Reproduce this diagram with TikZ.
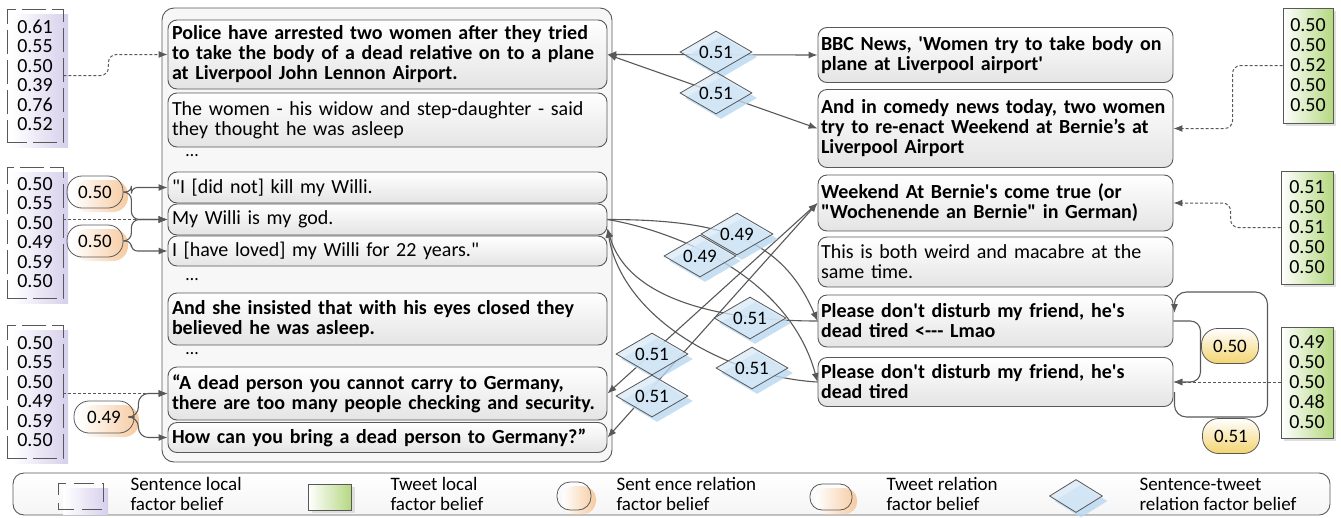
\documentclass[tikz,border=0pt]{standalone}
\usepackage{fontspec}
\setmainfont{Carlito}
\usetikzlibrary{shapes.geometric,shadows,calc,arrows.meta}

\definecolor{lngray}{RGB}{88,88,88}
\definecolor{boxgray}{RGB}{228,228,228}
\definecolor{purp}{RGB}{214,207,236}
\definecolor{grn}{RGB}{180,216,128}
\definecolor{peach}{RGB}{246,202,160}
\definecolor{yel}{RGB}{243,212,110}
\definecolor{dia}{RGB}{216,233,247}
\definecolor{diash}{RGB}{184,215,240}

\tikzset{
  sent/.style={draw=lngray, line width=0.9pt, rounded corners=9pt, top color=white, bottom color=boxgray,
    text width=431pt, inner xsep=4pt, inner ysep=0pt, align=left, font=\fontsize{20}{20}\selectfont},
  sentb/.style={sent, font=\bfseries\fontsize{20}{20}\selectfont},
  tweet/.style={sent, text width=349pt, inner xsep=3pt},
  tweetb/.style={tweet, font=\bfseries\fontsize{20}{20}\selectfont},
  sbel/.style={draw=lngray, line width=0.9pt, dash pattern=on 24pt off 6pt, dash phase=4pt, minimum width=56pt,
    general shadow={shadow xshift=5pt, shadow yshift=-5pt, left color=white, right color=purp},
    align=center, font=\fontsize{20}{19.5}\selectfont},
  gbel/.style={draw=lngray, line width=0.9pt, left color=white, right color=grn,
    general shadow={shadow xshift=3pt, shadow yshift=-3pt, fill=gray!25},
    align=center, font=\fontsize{20}{20}\selectfont},
  srel/.style={draw=lngray, line width=0.8pt, rounded corners=15pt, minimum width=56pt, minimum height=32pt,
    general shadow={shadow xshift=5pt, shadow yshift=-4pt, left color=white, right color=peach},
    font=\fontsize{19}{20}\selectfont},
  trel/.style={draw=lngray, line width=0.8pt, rounded corners=16pt, minimum width=57pt, minimum height=35pt,
    top color=white, bottom color=yel, font=\fontsize{19}{20}\selectfont},
  stf/.style={diamond, draw=lngray, line width=0.8pt, aspect=1.7, inner sep=0pt,
    minimum width=72pt, minimum height=42pt, fill=dia, fill opacity=0.75, text opacity=1,
    general shadow={shadow xshift=5pt, shadow yshift=-5pt, fill=diash, fill opacity=0.8},
    font=\fontsize{19}{20}\selectfont},
  arr/.style={draw=lngray, line width=1.1pt, -{Latex[length=9pt,width=7pt]}},
  arr2/.style={draw=lngray, line width=1.1pt, {Latex[length=9pt,width=7pt]}-{Latex[length=9pt,width=7pt]}},
  dotarr/.style={draw=lngray, line width=1pt, densely dashed, -{Latex[length=9pt,width=7pt]}},
  legtxt/.style={anchor=west, align=left, font=\fontsize{19}{20}\selectfont}
}
\newcommand{\sq}{\textquotesingle}
\newcommand{\dq}{\textquotedbl}

\begin{document}
\begin{tikzpicture}[x=1pt,y=-1pt]
  \useasboundingbox (0,0) rectangle (1341,517);

  % article sentences
  \node[draw=lngray, line width=0.9pt, rounded corners=12pt, fill=gray!6,
    minimum width=450pt, minimum height=454pt] (art) at (387,235) {};
  \node[sentb, minimum height=69pt] (S1) at (387.5,54.5)
    {Police have arrested two women after they tried\\to take the body of a dead relative on to a plane\\at Liverpool John Lennon Airport.};
  \node[sent, minimum height=54pt] (S2) at (387.5,120)
    {The women - his widow and step-daughter - said\\they thought he was asleep};
  \node[font=\fontsize{18}{20}\selectfont] (dots1) at (192,156) {\ldots};
  \node[sent, minimum height=31pt] (S3) at (387.5,187.5) {\dq I [did not] kill my Willi.};
  \node[sent, minimum height=31pt] (S4) at (387.5,219.5) {My Willi is my god.};
  \node[sent, minimum height=30pt] (S5) at (387.5,251) {I [have loved] my Willi for 22 years.\dq};
  \node[font=\fontsize{18}{20}\selectfont] (dots2) at (192,280) {\ldots};
  \node[sentb, minimum height=52pt] (S6) at (387.5,319)
    {And she insisted that with his eyes closed they\\believed he was asleep.};
  \node[font=\fontsize{18}{20}\selectfont] (dots3) at (192,354) {\ldots};
  \node[sentb, minimum height=53pt] (S7) at (387.5,393.5)
    {“A dead person you cannot carry to Germany,\\there are too many people checking and security.};
  \node[sentb, minimum height=30pt] (S8) at (387.5,437.5)
    {How can you bring a dead person to Germany?”};

  % tweets
  \node[tweetb, minimum height=55pt] (T1) at (995.5,55)
    {BBC News, \sq Women try to take body on\\plane at Liverpool airport\sq};
  \node[tweetb, minimum height=78pt] (T2) at (995.5,128.5)
    {And in comedy news today, two women\\try to re-enact Weekend at Bernie’s at\\Liverpool Airport};
  \node[tweetb, minimum height=56pt] (T3) at (995.5,203)
    {Weekend At Bernie\sq s come true (or\\\dq Wochenende an Bernie\dq{} in German)};
  \node[tweet, minimum height=50pt] (T4) at (995.5,262)
    {This is both weird and macabre at the\\same time.};
  \node[tweetb, minimum height=52pt] (T5) at (995.5,321)
    {Please don\sq t disturb my friend, he\sq s\\dead tired <-{}-{}- Lmao};
  \node[tweetb, minimum height=49pt] (T6) at (995.5,382)
    {Please don\sq t disturb my friend, he\sq s\\dead tired};

  % local factor beliefs
  \node[sbel, minimum height=133pt] (B1) at (35,75.5) {0.61\\0.55\\0.50\\0.39\\0.76\\0.52};
  \node[sbel, minimum height=131pt] (B2) at (35,232.5) {0.50\\0.55\\0.50\\0.49\\0.59\\0.50};
  \node[sbel, minimum height=133pt] (B3) at (35,391.5) {0.50\\0.55\\0.50\\0.49\\0.59\\0.50};
  \node[gbel, minimum width=50pt, minimum height=115pt] (G1) at (1308,65.5) {0.50\\0.50\\0.52\\0.50\\0.50};
  \node[gbel, minimum width=52pt, minimum height=113pt] (G2) at (1307,227.5) {0.51\\0.50\\0.51\\0.50\\0.50};
  \node[gbel, minimum width=52pt, minimum height=111pt] (G3) at (1307,382.5) {0.49\\0.50\\0.50\\0.48\\0.50};

  \draw[dotarr, rounded corners=8pt] (B1.east) -- ++(45,0) |- (S1.west);
  \draw[dotarr] (B2.east |- S4.west) -- (S4.west);
  \draw[dotarr] (B3.east |- S7.west) -- (S7.west);
  \draw[dotarr, rounded corners=8pt] (G1.west) -- ++(-50,0) |- (T2.east);
  \draw[dotarr, rounded corners=8pt] (G2.west) -- ++(-50,0) |- (T3.east);
  \draw[dotarr] (G3.west |- T6.east) -- (T6.east);

  % sentence relation factors
  \node[srel] (o1) at (95,192) {0.50};
  \node[srel] (o2) at (95,241) {0.50};
  \node[srel, minimum width=60pt] (o3) at (104,417) {0.49};
  \draw[arr, rounded corners=6pt] (o1.east) -- ++(8,0) |- (S3.west);
  \draw[arr, rounded corners=8pt] (o1.east) -- ++(8,0) |- (S4.west);
  \draw[arr, rounded corners=8pt] (o2.east) -- ++(8,0) |- (S4.west);
  \draw[arr, rounded corners=6pt] (o2.east) -- ++(8,0) |- (S5.west);
  \draw[arr, rounded corners=10pt] (o3.east) -- ++(4,0) |- (S7.west);
  \draw[arr, rounded corners=10pt] (o3.east) -- ++(4,0) |- (S8.west);

  % tweet relation factors
  \node[trel] (r1) at (1230,346) {0.50};
  \node[trel] (r2) at (1231,436) {0.51};
  \draw[arr, rounded corners=10pt] (T5.east) -- ++(27,0) |- (T6.east);
  \draw[arr, rounded corners=12pt] ($(T6.east)+(1,10)$) -- ++(0,25) -- ++(93,0) -- ++(0,-125)
    -- ++(-93,0) -- ($(T5.east)+(1,-8)$);

  % sentence-tweet relation factors
  \draw[arr2] (S1.east) -- (T1.west);
  \draw[arr2] (S1.east) -- (T2.west);
  \draw[arr2] (S7.east) -- (T3.west);
  \draw[arr2] (S8.east) -- (T3.west);
  \draw[arr] (S4.east) .. controls +(120,0) and +(-35,-80) .. (T5.west);
  \draw[arr] (S4.east) .. controls +(60,10) and +(-30,-110) .. (T6.west);
  \draw[arr] (T5.west) .. controls +(-100,0) and +(20,70) .. ($(S4.east)+(0,9)$);
  \draw[arr] (T6.west) .. controls +(-90,-5) and +(15,90) .. ($(S4.east)+(0,9)$);
  \node[stf] (f1) at (716,52) {0.51};
  \node[stf] (f2) at (716,93) {0.51};
  \node[stf] (f3) at (737,234) {0.49};
  \node[stf] (f4) at (700,256) {0.49};
  \node[stf] (f5) at (750,318) {0.51};
  \node[stf] (f6) at (752,368) {0.51};
  \node[stf] (f7) at (652,354) {0.51};
  \node[stf] (f8) at (652,396) {0.51};

  % legend
  \node[draw=lngray, line width=0.9pt, rounded corners=11pt, top color=white, bottom color=gray!8,
    minimum width=1317pt, minimum height=42pt] (leg) at (671.5,494) {};
  \node[sbel, minimum width=45pt, minimum height=26pt, dash pattern=on 20pt off 8pt] (lg1) at (80.5,496) {};
  \node[legtxt] (lt1) at (127,494) {Sentence local\\factor belief};
  \node[gbel, minimum width=43pt, minimum height=26pt] (lg2) at (330,497) {};
  \node[legtxt] (lt2) at (387,494) {Tweet local\\factor belief};
  \node[srel, minimum width=34pt, minimum height=28pt, rounded corners=13pt] (lg3) at (574,496) {};
  \node[legtxt] (lt3) at (613,494) {Sent ence relation\\factor belief};
  \node[srel, minimum width=42pt, minimum height=26pt, rounded corners=12pt] (lg4) at (831,497) {};
  \node[legtxt] (lt4) at (883,494) {Tweet relation\\factor belief};
  \node[stf, minimum width=53pt, minimum height=33pt] (lg5) at (1076,496) {};
  \node[legtxt] (lt5) at (1136,494) {Sentence-tweet\\relation factor belief};
\end{tikzpicture}
\end{document}
